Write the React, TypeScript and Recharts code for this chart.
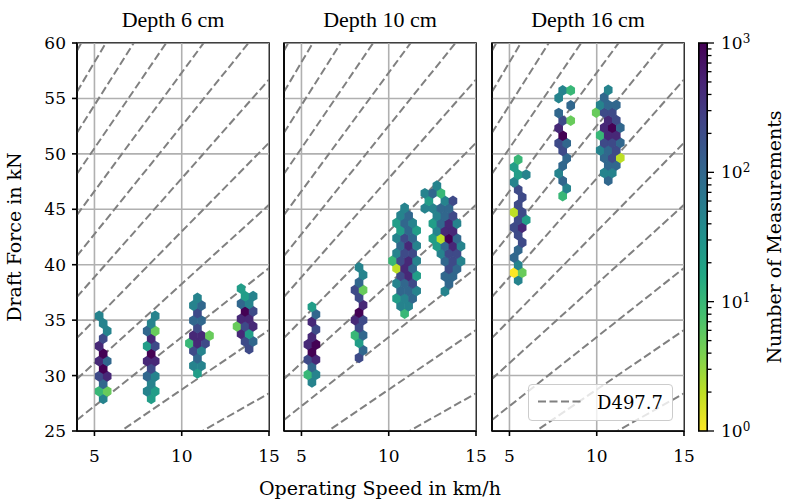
import React from 'react';
import {
  ComposedChart,
  ReferenceArea,
  ReferenceLine,
  Scatter,
  ScatterChart,
  XAxis,
  YAxis,
} from 'recharts';

// Matplotlib-ish look: serif text, gray grid, dashed gray model lines.
const FONT = '"DejaVu Serif", "Liberation Serif", serif';
const TITLE_FONT = '"Liberation Serif", "DejaVu Serif", serif';
const FONT_SIZE = 17;
const LABEL_SIZE = 19;
const INK = '#000000';
const GRID = '#b0b0b0';
const MODEL = '#808080';

const DEPTHS = ['Depth 6 cm', 'Depth 10 cm', 'Depth 16 cm'];
const SPEED_TICKS = [5, 10, 15];
const FORCE_TICKS = [25, 30, 35, 40, 45, 50, 55, 60];
const COUNT_TICKS = [1, 10, 100, 1000];
const COUNT_MINOR = [2, 3, 4, 5, 6, 7, 8, 9, 20, 30, 40, 50, 60, 70, 80, 90, 200, 300, 400, 500, 600, 700, 800, 900];

// D497.7 reference lines, draft force (kN) read at 4 km/h and at 15 km/h
const D497_AT_4 = [18.6, 22.3, 26.0, 29.7, 33.4, 37.1, 40.8, 44.5, 48.2, 51.9, 55.6, 59.3];
const D497_AT_15 = [28.4, 34.1, 39.7, 45.4, 51.0, 56.7, 62.3, 68.0, 73.6, 79.3, 84.9, 90.6];

// Hexbin clusters. Rows go bottom -> top; each char is one hex,
// digit d = count level (10^(d/3) measurements), '.' = empty.
// Odd rows sit half a hex to the left of even rows.
type Cluster = { x: number; y: number; rows: string[] };

const HEX_6CM: Cluster[] = [
  { x: 5.5, y: 27.9, rows: ['5', '32', '6', '78', '9', '86', '9', '8', '7', '.5', '5', '5'] },
  { x: 8.25, y: 27.9, rows: ['4', '54', '5', '65', '7', '88', '9', '47', '8', '62', '5', '.5'] },
  { x: 10.44, y: 30.2, rows: ['.4', '.55', '.6', '.75', '387', '.882', '.7', '.66', '.7', '.56', '.5'] },
  { x: 13.4, y: 32.4, rows: ['.7', '.76', '84', '278', '88', '.97', '65', '.45', '4'] },
];

const HEX_10CM: Cluster[] = [
  { x: 5.6, y: 29.4, rows: ['5', '35', '6', '78', '9', '89', '8', '.7', '8', '.6', '4'] },
  { x: 8.3, y: 31.6, rows: ['7', '.6', '4', '36', '7', '87', '9', '.8', '7', '72', '6', '.5', '5'] },
  {
    x: 10.45,
    y: 35.6,
    rows: ['.3', '.55', '456', '.665', '567', '.784', '186', '3785', '577', '.685', '576', '.464', '465', '.56', '.5'],
  },
  {
    x: 12.3,
    y: 37.6,
    rows: ['..5', '...6', '..66', '...76', '..675', '..577', '.4685', '.4196', '.588', '.4685', '.567', '5566', '4.57', '563', '.5'],
  },
];

const HEX_16CM: Cluster[] = [
  { x: 5.5, y: 38.6, rows: ['5', '02', '5', '6', '6', '.7', '7', '78', '74', '17', '7', '.7', '7', '5', '45', '4', '3'] },
  { x: 8.05, y: 46.2, rows: ['3', '.5', '6', '5', '6', '.6', '7', '76', '9', '8', '72', '6', '.6', '5', '53'] },
  { x: 10.2, y: 47.6, rows: ['.6', '.55', '.66', '.671', '567', '.776', '388', '.896', '.87', '277', '566', '.6', '.5'] },
];

const VIRIDIS = [
  '#440154', '#482475', '#414487', '#355f8d', '#2a788e', '#21918c',
  '#22a884', '#44bf70', '#7ad151', '#bddf26', '#fde725',
];

// layout (px)
const PLOT_TOP = 43;
const PLOT_W = 192;
const PLOT_H = 388;
const Y_AXIS_W = 50;
const X_AXIS_H = 44;
const RIGHT_PAD = 16;
const PANEL_LEFTS = [77, 284, 492];
const BAR_LEFT = 698;
const BAR_W = 10;

// hex lattice step in data units
const HEX_DX = 0.46;
const HEX_DY = 0.68;
const PX_X = PLOT_W / 11;
const PX_Y = PLOT_H / 35;

type Hex = { x: number; y: number; n: number };

function toHexes(clusters: Cluster[]): Hex[] {
  const out: Hex[] = [];
  clusters.forEach((c) =>
    c.rows.forEach((row, r) => {
      row.split('').forEach((ch, k) => {
        if (ch === '.') return;
        const shift = r % 2 === 0 ? 0 : -0.5;
        out.push({
          x: c.x + (k + shift) * HEX_DX,
          y: c.y + r * HEX_DY,
          n: Math.round(Math.pow(10, Number(ch) / 3)),
        });
      });
    }),
  );
  return out;
}

function hexToRgb(h: string) {
  return [1, 3, 5].map((i) => parseInt(h.slice(i, i + 2), 16));
}

// viridis_r on a log scale 1..1000
function countColor(n: number) {
  const t = Math.min(1, Math.max(0, 1 - Math.log10(n) / 3)) * (VIRIDIS.length - 1);
  const i = Math.min(VIRIDIS.length - 2, Math.floor(t));
  const f = t - i;
  const a = hexToRgb(VIRIDIS[i]);
  const b = hexToRgb(VIRIDIS[i + 1]);
  const c = a.map((v, j) => Math.round(v + (b[j] - v) * f));
  return `rgb(${c[0]},${c[1]},${c[2]})`;
}

function HexShape(props: any) {
  const { cx, cy, payload } = props;
  if (cx == null || cy == null) return null;
  const w = (HEX_DX * PX_X) / 2 + 0.3;
  const sy = 2 * HEX_DY * PX_Y;
  const h = sy / 3 + 0.4;
  const h2 = sy / 6 + 0.2;
  const pts = [
    [0, -h], [w, -h2], [w, h2], [0, h], [-w, h2], [-w, -h2],
  ]
    .map(([dx, dy]) => `${cx + dx},${cy + dy}`)
    .join(' ');
  return <polygon points={pts} fill={countColor(payload.n)} />;
}

const tickText = { fill: INK, fontSize: FONT_SIZE, fontFamily: FONT };

function Panel({ left, clusters, labelled }: { left: number; clusters: Cluster[]; labelled: boolean }) {
  const hexes = toHexes(clusters);
  return (
    <div style={{ position: 'absolute', left: left - Y_AXIS_W, top: 0 }}>
      <ScatterChart
        width={Y_AXIS_W + PLOT_W + RIGHT_PAD}
        height={PLOT_TOP + PLOT_H + X_AXIS_H}
        margin={{ top: PLOT_TOP, right: RIGHT_PAD, bottom: 0, left: 0 }}
      >
        <XAxis
          type="number"
          dataKey="x"
          domain={[4, 15]}
          ticks={SPEED_TICKS}
          interval={0}
          allowDataOverflow
          height={X_AXIS_H}
          stroke={INK}
          strokeWidth={1.6}
          tickSize={5}
          tickMargin={14}
          tick={tickText}
        />
        <YAxis
          type="number"
          dataKey="y"
          domain={[25, 60]}
          ticks={FORCE_TICKS}
          interval={0}
          allowDataOverflow
          width={Y_AXIS_W}
          stroke={INK}
          strokeWidth={1.6}
          tickSize={5}
          tickMargin={6}
          tick={labelled ? tickText : false}
        />
        <Scatter data={hexes} shape={HexShape} isAnimationActive={false} />
        {SPEED_TICKS.map((v) => (
          <ReferenceLine key={`gx${v}`} x={v} stroke={GRID} strokeWidth={1.6} ifOverflow="hidden" />
        ))}
        {FORCE_TICKS.map((v) => (
          <ReferenceLine key={`gy${v}`} y={v} stroke={GRID} strokeWidth={1.6} ifOverflow="hidden" />
        ))}
        {D497_AT_4.map((a, i) => (
          <ReferenceLine
            key={`d${i}`}
            segment={[{ x: 4, y: a }, { x: 15, y: D497_AT_15[i] }]}
            stroke={MODEL}
            strokeWidth={2}
            strokeDasharray="8 3.5"
            ifOverflow="hidden"
          />
        ))}
        <ReferenceArea x1={4} x2={15} y1={25} y2={60} fill="none" stroke={INK} strokeWidth={1.6} />
      </ScatterChart>
    </div>
  );
}

// colorbar tick: long mark + 10^n for decades, short mark for minor values
function CountTick(props: any) {
  const { y, payload } = props;
  const v = payload.value;
  const major = COUNT_TICKS.includes(v);
  return (
    <g>
      <line x1={BAR_W} x2={BAR_W + (major ? 6 : 3.5)} y1={y} y2={y} stroke={INK} strokeWidth={1.3} />
      {major && (
        <text x={BAR_W + 13} y={y} dy="0.36em" textAnchor="start" fontFamily={FONT} fontSize={FONT_SIZE} fill={INK}>
          10
          <tspan dy="-0.5em" fontSize={12}>
            {Math.round(Math.log10(v))}
          </tspan>
        </text>
      )}
    </g>
  );
}

function ColorBar() {
  return (
    <div style={{ position: 'absolute', left: BAR_LEFT, top: 0 }}>
      <svg width={BAR_W} height={PLOT_TOP + PLOT_H + 4} style={{ position: 'absolute', left: 0, top: 0 }}>
        <defs>
          <linearGradient id="viridisBar" x1="0" y1="0" x2="0" y2="1">
            {VIRIDIS.map((c, i) => (
              <stop key={c} offset={`${i * 10}%`} stopColor={c} />
            ))}
          </linearGradient>
        </defs>
        <rect x={0.8} y={PLOT_TOP} width={BAR_W - 1.6} height={PLOT_H} fill="url(#viridisBar)" stroke={INK} strokeWidth={1.6} />
      </svg>
      <div style={{ position: 'absolute', left: 0, top: 0 }}>
        <ComposedChart
          width={BAR_W + 60}
          height={PLOT_TOP + PLOT_H + 12}
          margin={{ top: PLOT_TOP, right: 0, bottom: 12, left: 0 }}
        >
          <XAxis type="number" dataKey="x" domain={[0, 1]} hide />
          <YAxis
            orientation="right"
            type="number"
            scale="log"
            domain={[1, 1000]}
            ticks={[...COUNT_TICKS, ...COUNT_MINOR]}
            interval={0}
            allowDataOverflow
            width={60}
            axisLine={false}
            tickLine={false}
            tickSize={0}
            tickMargin={0}
            tick={<CountTick />}
          />
        </ComposedChart>
      </div>
    </div>
  );
}

export default function App() {
  const clusters = [HEX_6CM, HEX_10CM, HEX_16CM];
  return (
    <div style={{ position: 'absolute', left: 0, top: 0, width: 787, height: 501, background: '#fff' }}>
      {PANEL_LEFTS.map((left, i) => (
        <Panel key={left} left={left} clusters={clusters[i]} labelled={i === 0} />
      ))}
      <ColorBar />
      <div
        style={{
          position: 'absolute',
          left: 528,
          top: 384,
          width: 143,
          height: 35,
          border: '1px solid #cccccc',
          borderRadius: 4,
          background: 'rgba(255,255,255,0.8)',
        }}
      >
        <svg width={143} height={35} style={{ position: 'absolute', left: 0, top: 0 }}>
          <line x1={9} x2={52} y1={16.5} y2={16.5} stroke={MODEL} strokeWidth={2} strokeDasharray="8 3.5" />
          <text x={68} y={23.5} fontFamily={FONT} fontSize={18} fill={INK}>
            D497.7
          </text>
        </svg>
      </div>
      <svg width={787} height={501} style={{ position: 'absolute', left: 0, top: 0, pointerEvents: 'none' }}>
        {DEPTHS.map((t, i) => (
          <text
            key={t}
            x={PANEL_LEFTS[i] + PLOT_W / 2}
            y={27}
            textAnchor="middle"
            fontFamily={TITLE_FONT}
            fontSize={22}
            fill={INK}
          >
            {t}
          </text>
        ))}
        <text x={380} y={495} textAnchor="middle" fontFamily={FONT} fontSize={LABEL_SIZE} fill={INK}>
          Operating Speed in km/h
        </text>
        <text transform="translate(21 237) rotate(-90)" textAnchor="middle" fontFamily={FONT} fontSize={LABEL_SIZE} fill={INK}>
          Draft Force in kN
        </text>
        <text transform="translate(781 237) rotate(-90)" textAnchor="middle" fontFamily={FONT} fontSize={LABEL_SIZE} fill={INK}>
          Number of Measurements
        </text>
      </svg>
    </div>
  );
}
